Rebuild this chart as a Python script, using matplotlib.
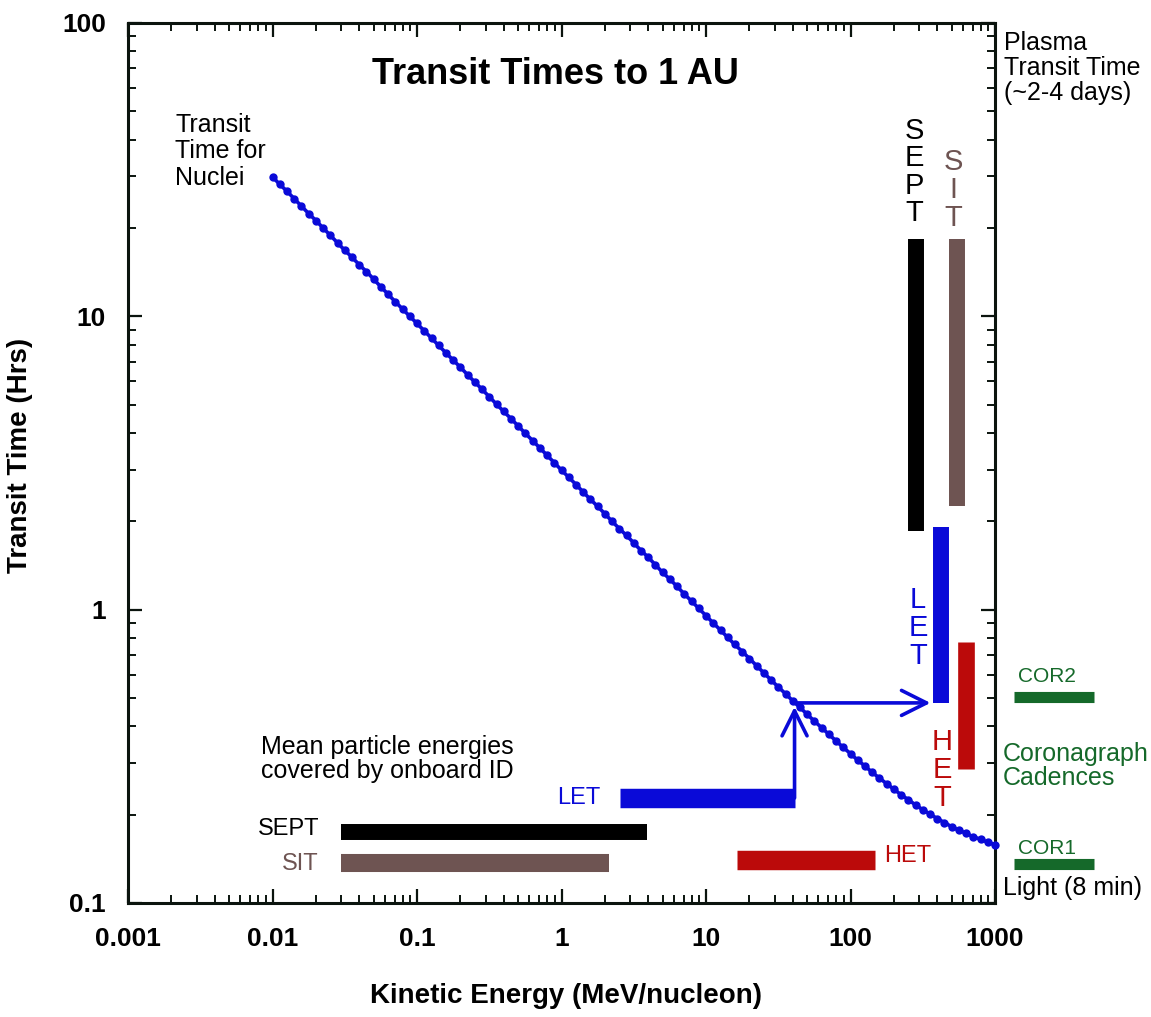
import matplotlib
matplotlib.use('Agg')
import matplotlib.pyplot as plt
from matplotlib.ticker import FixedLocator, FixedFormatter, LogLocator, NullFormatter

W, H = 1151, 1017

# ---- data ----
energy = [0.0100, 0.0112, 0.0126, 0.0141, 0.0158, 0.0178, 0.0200, 0.0224, 0.0251, 0.0282,
          0.0316, 0.0355, 0.0398, 0.0447, 0.0501, 0.0562, 0.0631, 0.0708, 0.0794, 0.0891,
          0.100, 0.112, 0.126, 0.141, 0.158, 0.178, 0.200, 0.224, 0.251, 0.282,
          0.316, 0.355, 0.398, 0.447, 0.501, 0.562, 0.631, 0.708, 0.794, 0.891,
          1.00, 1.12, 1.26, 1.41, 1.58, 1.78, 2.00, 2.24, 2.51, 2.82,
          3.16, 3.55, 3.98, 4.47, 5.01, 5.62, 6.31, 7.08, 7.94, 8.91,
          10.0, 11.2, 12.6, 14.1, 15.8, 17.8, 20.0, 22.4, 25.1, 28.2,
          31.6, 35.5, 39.8, 44.7, 50.1, 56.2, 63.1, 70.8, 79.4, 89.1,
          100, 112, 126, 141, 158, 178, 200, 224, 251, 282,
          316, 355, 398, 447, 501, 562, 631, 708, 794, 891, 1000]
transit = [29.9, 28.2, 26.7, 25.2, 23.8, 22.4, 21.2, 20.0, 18.9, 17.8,
           16.8, 15.9, 15.0, 14.2, 13.4, 12.6, 11.9, 11.2, 10.6, 10.0,
           9.46, 8.93, 8.43, 7.96, 7.52, 7.09, 6.70, 6.32, 5.97, 5.64,
           5.32, 5.02, 4.74, 4.48, 4.23, 3.99, 3.77, 3.56, 3.36, 3.17,
           2.99, 2.83, 2.67, 2.52, 2.38, 2.25, 2.12, 2.00, 1.89, 1.79,
           1.69, 1.59, 1.51, 1.42, 1.34, 1.27, 1.20, 1.13, 1.07, 1.01,
           0.954, 0.901, 0.852, 0.805, 0.761, 0.720, 0.681, 0.644, 0.609, 0.576,
           0.545, 0.517, 0.489, 0.464, 0.440, 0.417, 0.396, 0.376, 0.357, 0.339,
           0.323, 0.307, 0.293, 0.279, 0.267, 0.255, 0.244, 0.234, 0.225, 0.216,
           0.208, 0.201, 0.194, 0.188, 0.182, 0.177, 0.173, 0.168, 0.165, 0.161, 0.158]

# instrument energy coverage (horizontal bars): [E_min, E_max], time level
sept_energy = [0.0296, 3.88]
sept_level = 0.175
sit_energy = [0.0296, 2.12]
sit_level = 0.137
let_energy = [2.52, 41.0]
let_level = 0.228
het_energy = [16.3, 147.0]
het_level = 0.140

# transit-time ranges (vertical bars): energy column, [t_min, t_max]
sept_col = 286
sept_times = [1.85, 18.3]
sit_col = 542
sit_times = [2.25, 18.3]
let_col = 426
let_times = [0.481, 1.92]
het_col = 625
het_times = [0.286, 0.778]

# coronagraph cadences (outside the frame)
cor_energy = [1343, 4806]
cor2_level = 0.505
cor1_level = 0.136

# LET arrows
arrow_knee_energy = 41.0
arrow_knee_time = 0.481
arrow_end_energy = 358

x_ticks = [0.001, 0.01, 0.1, 1, 10, 100, 1000]
x_ticklabels = ['0.001', '0.01', '0.1', '1', '10', '100', '1000']
y_ticks = [0.1, 1, 10, 100]
y_ticklabels = ['0.1', '1', '10', '100']

# ---- style ----
FONT = ['Liberation Sans', 'DejaVu Sans']
NARROW = ['Liberation Sans Narrow', 'Liberation Sans', 'DejaVu Sans']
plt.rcParams['font.family'] = FONT
BLUE = '#0a0ad8'
BROWN = '#6e5452'
RED = '#bb0a0a'
GREEN = '#15692a'
BLACK = '#000000'

fig = plt.figure(figsize=(W / 100, H / 100), dpi=100)
fig.patch.set_facecolor('white')
ax = fig.add_axes([128 / W, 1 - 903 / H, (995 - 128) / W, (903 - 23) / H])
ax.set_xscale('log')
ax.set_yscale('log')
ax.set_xlim(0.001, 1000)
ax.set_ylim(0.1, 100)

for s in ax.spines.values():
    s.set_linewidth(2.2)
    s.set_color('#0b140e')

ax.xaxis.set_major_locator(FixedLocator(x_ticks))
ax.xaxis.set_major_formatter(FixedFormatter(x_ticklabels))
ax.yaxis.set_major_locator(FixedLocator(y_ticks))
ax.yaxis.set_major_formatter(FixedFormatter(y_ticklabels))
ax.xaxis.set_minor_locator(LogLocator(base=10, subs=range(2, 10), numticks=20))
ax.yaxis.set_minor_locator(LogLocator(base=10, subs=range(2, 10), numticks=20))
ax.xaxis.set_minor_formatter(NullFormatter())
ax.yaxis.set_minor_formatter(NullFormatter())
ax.tick_params(which='both', direction='in', top=True, right=True, color='#0b140e')
ax.tick_params(which='major', length=10, width=1.6, labelsize=19)
ax.tick_params(which='minor', length=6, width=1.4)
ax.tick_params(axis='x', which='major', pad=17)
ax.tick_params(axis='y', which='major', pad=16)
for lab in ax.get_xticklabels() + ax.get_yticklabels():
    lab.set_fontweight('bold')

# horizontal energy-coverage bars
ax.hlines(sept_level, sept_energy[0], sept_energy[1], color=BLACK, lw=11.5)
ax.hlines(sit_level, sit_energy[0], sit_energy[1], color=BROWN, lw=13)
ax.hlines(let_level, let_energy[0], let_energy[1], color=BLUE, lw=14)
ax.hlines(het_level, het_energy[0], het_energy[1], color=RED, lw=14)

# vertical transit-time bars
ax.vlines(sept_col, sept_times[0], sept_times[1], color=BLACK, lw=11.5)
ax.vlines(sit_col, sit_times[0], sit_times[1], color=BROWN, lw=11.5)
ax.vlines(let_col, let_times[0], let_times[1], color=BLUE, lw=11.5)
ax.vlines(het_col, het_times[0], het_times[1], color=RED, lw=12)

# coronagraph bars (outside axes)
for lvl in (cor2_level, cor1_level):
    ax.hlines(lvl, cor_energy[0], cor_energy[1], color=GREEN, lw=8, clip_on=False)

# arrows
ap = dict(arrowstyle='->,head_length=1.0,head_width=0.5', lw=2.6, color=BLUE,
          mutation_scale=18, shrinkA=0, shrinkB=0)
ax.annotate('', xy=(arrow_knee_energy, arrow_knee_time * 0.97),
            xytext=(arrow_knee_energy, let_level), arrowprops=ap)
ax.annotate('', xy=(arrow_end_energy, arrow_knee_time),
            xytext=(arrow_knee_energy, arrow_knee_time), arrowprops=ap)

# transit time curve
ax.plot(energy, transit, color=BLUE, lw=2.6, marker='o', ms=6.0, mew=0, zorder=5,
        clip_on=False)


def ftext(px, py, s, **kw):
    kw.setdefault('fontsize', 18)
    fig.text(px / W, 1 - py / H, s, **kw)


# title & axis labels
ftext(555, 75, 'Transit Times to 1 AU', fontsize=26, fontweight='bold', ha='center', va='center')
ftext(566, 996, 'Kinetic Energy (MeV/nucleon)', fontsize=20, fontweight='bold', ha='center', va='center')
ftext(20, 455, 'Transit Time (Hrs)', fontsize=20, fontweight='bold', ha='center', va='center',
      rotation=90)

# annotations
ftext(175, 113, 'Transit\nTime for\nNuclei', ha='left', va='top', linespacing=1.12)
ftext(1004, 31, 'Plasma\nTransit Time\n(~2-4 days)', ha='left', va='top', linespacing=1.05)
ftext(261, 735, 'Mean particle energies\ncovered by onboard ID', ha='left', va='top',
      linespacing=1.0)
ftext(319, 829, 'SEPT', ha='right', va='center', color=BLACK, fontsize=17)
ftext(319, 864, 'SIT', ha='right', va='center', color=BROWN, fontsize=17)
ftext(600, 798, 'LET', ha='right', va='center', color=BLUE, fontsize=17)
ftext(884, 856, 'HET', ha='left', va='center', color=RED, fontsize=17)
ftext(1018, 677, 'COR2', ha='left', va='center', color=GREEN, fontsize=15)
ftext(1018, 848, 'COR1', ha='left', va='center', color=GREEN, fontsize=15)
ftext(1003, 742, 'Coronagraph\nCadences', ha='left', va='top', color=GREEN, linespacing=1.0)
ftext(1003, 888, 'Light (8 min)', ha='left', va='center', color=BLACK)


def stacked(px, cy, word, color):
    ftext(px, cy, '\n'.join(word), ha='center', va='center', multialignment='center',
          color=color, fontsize=21, family=NARROW, linespacing=0.98)


stacked(914, 172, 'SEPT', BLACK)
stacked(953, 190, 'SIT', BROWN)
stacked(918, 628, 'LET', BLUE)
stacked(942, 770, 'HET', RED)

fig.savefig('out.png', dpi=100, facecolor='white')
